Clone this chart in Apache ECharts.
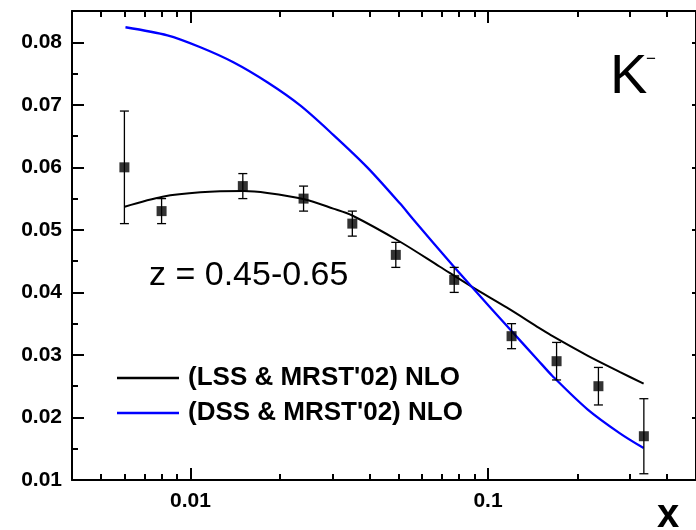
<!DOCTYPE html>
<html><head><meta charset="utf-8">
<script src="https://cdn.jsdelivr.net/npm/echarts@6/dist/echarts.min.js"></script>
<style>html,body{margin:0;padding:0;background:#fff}#c{width:696px;height:530px}</style>
</head><body><div id="c"></div>
<script>
// measured data points (x, value, error low, error high)
const dataX    = [0.006, 0.008, 0.015, 0.024, 0.035, 0.049, 0.077, 0.12, 0.17, 0.235, 0.334];
const dataY    = [0.060, 0.053, 0.057, 0.055, 0.051, 0.046, 0.042, 0.033, 0.029, 0.025, 0.017];
const errLow   = [0.051, 0.051, 0.055, 0.053, 0.049, 0.044, 0.040, 0.031, 0.026, 0.022, 0.011];
const errHigh  = [0.069, 0.055, 0.059, 0.057, 0.053, 0.048, 0.044, 0.035, 0.032, 0.028, 0.023];
// (LSS & MRST'02) NLO curve
const lssX = [0.00601, 0.00806, 0.0108, 0.01506, 0.01813, 0.02413, 0.0302, 0.03497, 0.05065, 0.06893, 0.08893, 0.1155, 0.1489, 0.1649, 0.2159, 0.2768, 0.3334];
const lssY = [0.0537, 0.0553, 0.0560, 0.0562, 0.0559, 0.0549, 0.0534, 0.0523, 0.0481, 0.0441, 0.0408, 0.0376, 0.0343, 0.0330, 0.0299, 0.0273, 0.0254];
// (DSS & MRST'02) NLO curve
const dssX = [0.00605, 0.00837, 0.0108, 0.01394, 0.01813, 0.02338, 0.0302, 0.03929, 0.05065, 0.05603, 0.07619, 0.08893, 0.1185, 0.147, 0.1649, 0.2159, 0.2768, 0.3334];
const dssY = [0.0824, 0.0811, 0.0792, 0.0768, 0.0736, 0.0699, 0.0652, 0.0600, 0.0542, 0.0517, 0.0443, 0.0407, 0.0341, 0.0292, 0.0266, 0.0213, 0.0175, 0.0151];
// axis ticks
const xMajorTicks = [0.01, 0.1];
const xMinorTicks = [0.005, 0.006, 0.007, 0.008, 0.009, 0.02, 0.03, 0.04, 0.05, 0.06, 0.07, 0.08, 0.09, 0.2, 0.3, 0.4];
const yMajorTicks = [0.01, 0.02, 0.03, 0.04, 0.05, 0.06, 0.07, 0.08];
const yMinorTicks = [0.015, 0.025, 0.035, 0.045, 0.055, 0.065, 0.075];
const legendNames = ["(LSS & MRST'02) NLO", "(DSS & MRST'02) NLO"];

const FONT = "'Liberation Sans', Arial, Helvetica, sans-serif";
const chart = echarts.init(document.getElementById('c'), null, {renderer: 'canvas'});

function xAxisDef(pos, ticks, len, showLine, showLabel) {
  return {
    type: 'log', logBase: 10, min: 0.004, max: 0.5, position: pos, gridIndex: 0,
    axisLine: {show: showLine, onZero: false, lineStyle: {color: '#000', width: 2}},
    axisTick: {show: true, inside: true, length: len, customValues: ticks, lineStyle: {color: '#000', width: 2}},
    axisLabel: showLabel ? {show: true, customValues: ticks, margin: 11, color: '#000',
      fontFamily: FONT, fontWeight: 'bold', fontSize: 21, formatter: v => String(+v.toPrecision(3))} : {show: false},
    splitLine: {show: false}, minorTick: {show: false}
  };
}
function yAxisDef(pos, ticks, len, showLine, showLabel) {
  return {
    type: 'value', min: 0.01, max: 0.085, position: pos, gridIndex: 0,
    axisLine: {show: showLine, onZero: false, lineStyle: {color: '#000', width: 2}},
    axisTick: {show: true, inside: true, length: len, customValues: ticks, lineStyle: {color: '#000', width: 2}},
    axisLabel: showLabel ? {show: true, customValues: ticks, margin: 10, color: '#000',
      fontFamily: FONT, fontWeight: 'bold', fontSize: 21, formatter: v => v.toFixed(2)} : {show: false},
    splitLine: {show: false}
  };
}

const option = {
  animation: false,
  backgroundColor: '#fff',
  grid: {left: 72, top: 11, width: 625, height: 469, containLabel: false},
  xAxis: [
    xAxisDef('bottom', xMajorTicks, 12, true, true),
    xAxisDef('bottom', xMinorTicks, 6, false, false),
    xAxisDef('top', xMajorTicks, 12, true, false),
    xAxisDef('top', xMinorTicks, 6, false, false)
  ],
  yAxis: [
    yAxisDef('left', yMajorTicks, 12, true, true),
    yAxisDef('left', yMinorTicks, 6, false, false),
    yAxisDef('right', yMajorTicks, 4, true, false)
  ],
  legend: {
    data: legendNames, orient: 'vertical', left: 117, top: 365, padding: 0,
    icon: 'rect', itemWidth: 62, itemHeight: 2.4, itemGap: 9,
    textStyle: {fontFamily: FONT, fontWeight: 'bold', fontSize: 26, color: '#000', padding: [0, 0, 0, 4]},
    selectedMode: false
  },
  graphic: [
    {type: 'text', x: 149, y: 276, style: {text: 'z = 0.45-0.65', fontFamily: FONT, fontSize: 34, fill: '#000', verticalAlign: 'middle', align: 'left'}},
    {type: 'text', x: 610, y: 78, style: {text: 'K', fontFamily: FONT, fontSize: 56, fill: '#000', verticalAlign: 'middle', align: 'left'}},
    {type: 'text', x: 646, y: 59, style: {text: '\u2212', fontFamily: FONT, fontSize: 17, fill: '#000', verticalAlign: 'middle', align: 'left'}},
    {type: 'text', x: 668, y: 516, style: {text: 'x', fontFamily: FONT, fontWeight: 'bold', fontSize: 40, fill: '#000', verticalAlign: 'middle', align: 'center'}}
  ],
  series: [
    {name: legendNames[0], type: 'line', xAxisIndex: 0, yAxisIndex: 0, smooth: 0.3, showSymbol: false, symbol: 'none',
     data: lssX.map((x, i) => [x, lssY[i]]), lineStyle: {color: '#000', width: 2}, itemStyle: {color: '#000'}, z: 2},
    {name: legendNames[1], type: 'line', xAxisIndex: 0, yAxisIndex: 0, smooth: 0.3, showSymbol: false, symbol: 'none',
     data: dssX.map((x, i) => [x, dssY[i]]), lineStyle: {color: '#0000ff', width: 2.3}, itemStyle: {color: '#0000ff'}, z: 2},
    {type: 'custom', xAxisIndex: 0, yAxisIndex: 0, z: 3,
     data: dataX.map((x, i) => [x, errLow[i], errHigh[i]]),
     encode: {x: 0, y: [1, 2]},
     renderItem: function (params, api) {
       const x = api.value(0);
       const pLo = api.coord([x, api.value(1)]);
       const pHi = api.coord([x, api.value(2)]);
       const w = 4.5;
       const st = {stroke: '#000', lineWidth: 1.3};
       return {type: 'group', children: [
         {type: 'line', shape: {x1: pLo[0], y1: pLo[1], x2: pHi[0], y2: pHi[1]}, style: st},
         {type: 'line', shape: {x1: pLo[0] - w, y1: pLo[1], x2: pLo[0] + w, y2: pLo[1]}, style: st},
         {type: 'line', shape: {x1: pHi[0] - w, y1: pHi[1], x2: pHi[0] + w, y2: pHi[1]}, style: st}
       ]};
     }},
    {type: 'scatter', xAxisIndex: 0, yAxisIndex: 0, z: 4, symbol: 'rect', symbolSize: 10,
     data: dataX.map((x, i) => [x, dataY[i]]), itemStyle: {color: '#000'}}
  ]
};
chart.setOption(option);
</script>
</body></html>
